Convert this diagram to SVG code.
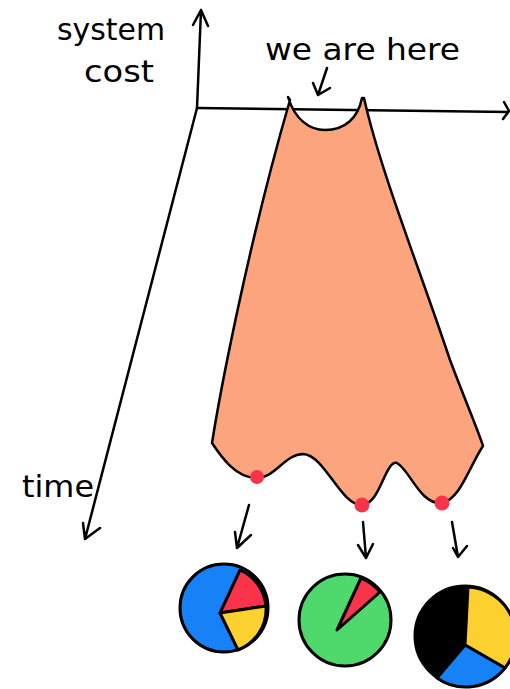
<svg xmlns="http://www.w3.org/2000/svg" width="510" height="689" viewBox="0 0 510 689">
<style>
.ln{fill:none;stroke:#000;stroke-width:2.5;stroke-linecap:round;stroke-linejoin:round}
.pie{stroke:#000;stroke-width:3;stroke-linejoin:round}
.lbl{font-family:"DejaVu Sans","Liberation Sans",sans-serif;font-weight:normal;fill:#000}
.dot{fill:#F8334A}
</style>
<rect width="510" height="689" fill="#fff"/>
<g id="axes">
<path class="ln" d="M197,108 L201,10 M193,25 L201,10 L208,26"/>
<path class="ln" d="M197,108 L508,112 M504,102 L509,111 L503,119"/>
<path class="ln" d="M197,108 L85,539 M83,523 L85,539 L100,528"/>
</g>
<g id="labels">
<text class="lbl" x="57" y="40" font-size="30" textLength="108" lengthAdjust="spacingAndGlyphs">system</text>
<text class="lbl" x="84" y="82" font-size="30" textLength="70" lengthAdjust="spacingAndGlyphs">cost</text>
<text class="lbl" x="265" y="60" font-size="30" textLength="195" lengthAdjust="spacingAndGlyphs">we are here</text>
<text class="lbl" x="22" y="497" font-size="30" textLength="72" lengthAdjust="spacingAndGlyphs">time</text>
</g>
<g id="landscape">
<path d="M288,97 C295,120 310,130 325,130 C345,130 358,118 362,98 L364,98 C380,170 420,270 450,360 C465,400 478,430 483,446 C470,465 460,500 442,503 C420,505 410,470 397,463 C385,460 380,505 362,505 C340,505 325,455 303,454 C285,454 275,478 257,478 C235,478 220,455 212,443 C222,380 252,230 290,100 Z" fill="#FCA47E" stroke="#000" stroke-width="2.5" stroke-linejoin="round"/>
<circle class="dot" cx="257" cy="477" r="7"/>
<circle class="dot" cx="362" cy="505" r="7.5"/>
<circle class="dot" cx="442" cy="503" r="7.5"/>
</g>
<g id="connectors">
<path class="ln" d="M327,68 L318,95 M313,83 L318,95 L330,88"/>
<path class="ln" d="M249,505 L237,548 M235,532 L237,548 L251,535"/>
<path class="ln" d="M363,522 L366,558 M358,545 L366,558 L373,544"/>
<path class="ln" d="M452,522 L458,557 M453,548 L458,557 L467,546"/>
</g>
<g id="pie1">
<circle class="pie" cx="224" cy="608" r="44" fill="#1782F8"/>
<path class="pie" d="M220,613 L240,570 A44,44 0 0 1 266,606 Z" fill="#F8334A"/>
<path class="pie" d="M220,613 L266,606 A44,44 0 0 1 238,650 Z" fill="#FCD02E"/>
</g>
<g id="pie2">
<circle class="pie" cx="345" cy="620" r="46" fill="#4FD86C"/>
<path class="pie" d="M337,630 L361,578 A46,46 0 0 1 380,592 Z" fill="#F8334A"/>
</g>
<g id="pie3">
<circle class="pie" cx="465" cy="636" r="50" fill="#000"/>
<path class="pie" d="M465,645 L468,587 A50,50 0 0 1 505,668 Z" fill="#FCD02E"/>
<path class="pie" d="M465,645 L505,668 A50,50 0 0 1 437,678 Z" fill="#1782F8"/>
</g>
</svg>
